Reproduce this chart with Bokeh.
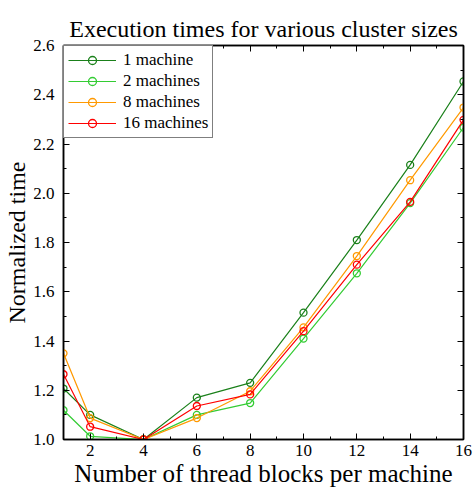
from bokeh.plotting import figure
from bokeh.models import LinearAxis, Legend, LegendItem, FixedTicker, CustomJSTickFormatter, Range1d
from bokeh.embed import file_html
from bokeh.resources import INLINE

threads = [1, 2, 4, 6, 8, 10, 12, 14, 16]
m1 = [1.207, 1.100, 1.000, 1.170, 1.230, 1.515, 1.810, 2.115, 2.454]
m2 = [1.119, 1.013, 1.000, 1.100, 1.148, 1.410, 1.675, 1.960, 2.267]
m8 = [1.350, 1.087, 1.000, 1.087, 1.196, 1.455, 1.745, 2.053, 2.348]
m16 = [1.265, 1.052, 1.000, 1.136, 1.183, 1.440, 1.710, 1.965, 2.298]

names = ["1 machine", "2 machines", "8 machines", "16 machines"]
colors = ["#1a801a", "#33cc33", "#ff9900", "#ff0000"]
series = [m1, m2, m8, m16]

x_ticks = [2, 4, 6, 8, 10, 12, 14, 16]
x_minor = [3, 5, 7, 9, 11, 13, 15]
y_ticks = [1.0, 1.2, 1.4, 1.6, 1.8, 2.0, 2.2, 2.4, 2.6]
y_minor = [1.1, 1.3, 1.5, 1.7, 1.9, 2.1, 2.3, 2.5]

FONT = "Liberation Serif"

p = figure(width=473, height=489, output_backend="svg", toolbar_location=None,
           x_range=Range1d(1, 16), y_range=Range1d(1.0, 2.6),
           title="Execution times for various cluster sizes",
           min_border_left=63, min_border_right=10, min_border_top=40, min_border_bottom=50)

p.title.text_font = FONT
p.title.text_font_size = "24px"
p.title.text_font_style = "normal"
p.title.align = "center"
p.title.text_color = "black"
p.title.standoff = 8
p.title.padding = (0, 0, 9, 0)

p.grid.visible = False
p.outline_line_color = "black"
p.outline_line_width = 1.5

for ax in (p.xaxis[0], p.yaxis[0]):
    ax.major_tick_in = 6
    ax.major_tick_out = 0
    ax.minor_tick_in = 3
    ax.minor_tick_out = 0
    ax.axis_line_color = "black"
    ax.axis_line_width = 1.5
    ax.major_tick_line_color = "black"
    ax.minor_tick_line_color = "black"
    ax.major_label_text_font = FONT
    ax.major_label_text_font_size = "17px"
    ax.major_label_text_color = "black"
    ax.axis_label_text_font = FONT
    ax.axis_label_text_font_style = "normal"
    ax.axis_label_text_color = "black"

p.xaxis[0].axis_label_text_font_size = "25px"
p.yaxis[0].axis_label_text_font_size = "24px"
p.xaxis[0].ticker = FixedTicker(ticks=x_ticks, minor_ticks=x_minor)
p.yaxis[0].ticker = FixedTicker(ticks=y_ticks, minor_ticks=y_minor)
p.yaxis[0].formatter = CustomJSTickFormatter(code="return tick.toFixed(1);")
p.xaxis[0].axis_label = "Number of thread blocks per machine"
p.yaxis[0].axis_label = "Normalized time"
p.xaxis[0].major_label_standoff = 5
p.yaxis[0].major_label_standoff = 9
p.xaxis[0].axis_label_standoff = 1
p.yaxis[0].axis_label_standoff = 0

top = LinearAxis(ticker=FixedTicker(ticks=x_ticks, minor_ticks=x_minor),
                 formatter=CustomJSTickFormatter(code="return '';"))
right = LinearAxis(ticker=FixedTicker(ticks=y_ticks, minor_ticks=y_minor),
                   formatter=CustomJSTickFormatter(code="return '';"))
for ax in (top, right):
    ax.major_tick_in = 6
    ax.major_tick_out = 0
    ax.minor_tick_in = 3
    ax.minor_tick_out = 0
    ax.axis_line_width = 1.5
    ax.major_label_standoff = 0
p.add_layout(top, "above")
p.add_layout(right, "right")

items = []
for name, col, vals in zip(names, colors, series):
    lr = p.line(threads, vals, line_color=col, line_width=1.2)
    sr = p.scatter(threads, vals, marker="circle", size=7, fill_color=None,
                   line_color=col, line_width=1.3)
    items.append(LegendItem(label=name, renderers=[lr, sr]))

legend = Legend(items=items, location="top_left")
legend.label_text_font = FONT
legend.label_text_font_size = "17px"
legend.label_text_color = "black"
legend.glyph_width = 48
legend.glyph_height = 20
legend.label_height = 20
legend.spacing = 1
legend.padding = 4
legend.margin = 0
legend.label_standoff = 7
legend.border_line_color = "black"
legend.border_line_width = 1.5
legend.background_fill_alpha = 1
p.add_layout(legend)

open("out.html", "w").write(file_html(p, INLINE))
